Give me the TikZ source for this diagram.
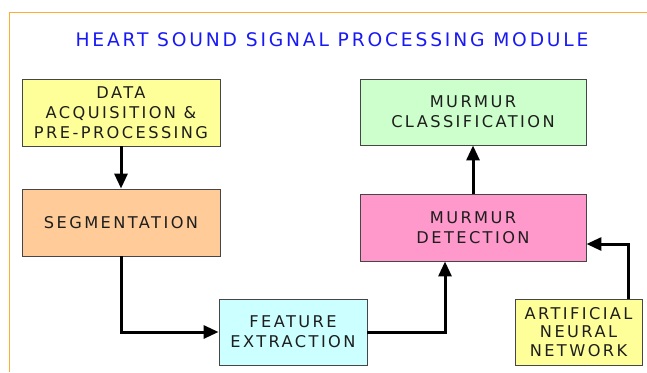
\documentclass[tikz,border=0pt]{standalone}
\usepackage{fontspec}
\usetikzlibrary{positioning,arrows.meta}
\newfontfamily\boxfont[LetterSpace=15]{DejaVu Sans}
\definecolor{frameorange}{RGB}{255,172,50}
\definecolor{titleblue}{RGB}{25,25,245}
\definecolor{boxline}{RGB}{70,70,70}
\definecolor{boxtext}{RGB}{30,30,30}
\definecolor{acqyellow}{RGB}{255,255,153}
\definecolor{segorange}{RGB}{255,204,153}
\definecolor{clsgreen}{RGB}{204,255,204}
\definecolor{detpink}{RGB}{255,153,204}
\definecolor{featcyan}{RGB}{204,255,255}
\tikzset{
  procbox/.style={draw=boxline, line width=0.9pt, align=center,
                  font=\boxfont\fontsize{16.2}{19.8}\selectfont, text=boxtext,
                  inner sep=0pt},
  flowarr/.style={->, line width=3pt, draw=black},
  frameline/.style={draw=frameorange, line width=1.4pt},
}
\begin{document}
\begin{tikzpicture}[x=1pt, y=-1pt, >={Triangle[length=15pt,width=13pt]}]
  \useasboundingbox (0,0) rectangle (647,372);

  % frame and title
  \draw[frameline] (9.5,372) -- (9.5,12.5) -- (647,12.5);
  \node[font=\boxfont\fontsize{18.7}{22}\selectfont, text=titleblue] (title) at (332,40)
       {HEART SOUND SIGNAL PROCESSING MODULE};

  % blocks
  \node[procbox, fill=acqyellow, minimum width=198pt, minimum height=67pt] (acq) at (121,112.5)
       {DATA\\ACQUISITION \&\\PRE-PROCESSING};
  \node[procbox, fill=segorange, minimum width=198pt, minimum height=67pt] (seg) at (121,222.5)
       {SEGMENTATION};
  \node[procbox, fill=featcyan, minimum width=148pt, minimum height=66pt] (feat) at (293,332)
       {FEATURE\\EXTRACTION};
  \node[procbox, fill=detpink, minimum width=226pt, minimum height=67pt] (det) at (473,227.5)
       {MURMUR\\DETECTION};
  \node[procbox, fill=clsgreen, minimum width=226pt, minimum height=66pt] (cls) at (473,112)
       {MURMUR\\CLASSIFICATION};
  \node[procbox, fill=acqyellow, minimum width=127pt, minimum height=66pt,
        font=\boxfont\fontsize{16.2}{18.5}\selectfont] (ann) at (578.5,332)
       {ARTIFICIAL\\NEURAL\\NETWORK};

  % connectors
  \draw[flowarr] (acq.south) -- (seg.north);
  \draw[flowarr] (seg.south) |- (feat.west);
  \draw[flowarr] (feat.east) -| ([xshift=-28pt]det.south);
  \draw[flowarr] (det.north) -- (cls.south);
  \draw[flowarr] ([xshift=49.5pt]ann.north) |- ([yshift=-16.5pt]det.east);
\end{tikzpicture}
\end{document}
